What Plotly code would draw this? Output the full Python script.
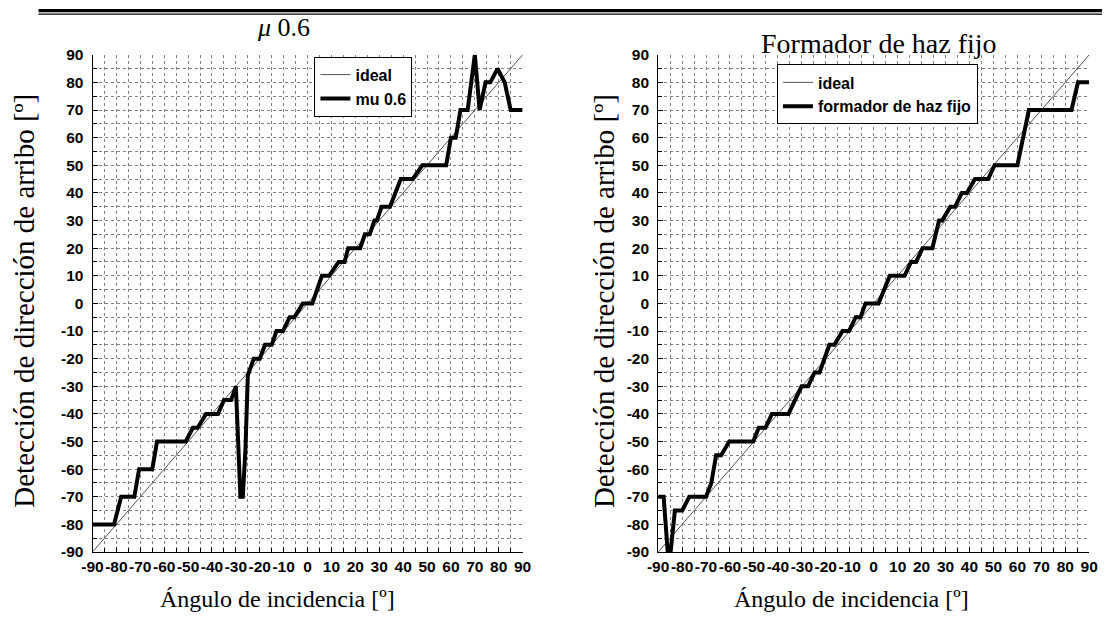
import plotly.graph_objects as go

W, H = 1111, 635

# ---------------- data ----------------
ideal_x = [-90, 90]
ideal_y = [-90, 90]

mu_x = [-90, -81, -78, -72.5, -70.5, -65, -63, -51, -48, -46, -42.5, -37.5, -35, -32, -30,
        -28.8, -28.1, -27.1, -26, -25, -22.5, -20, -17.8, -15, -13, -10.3, -7.5, -5.5, -2,
        2, 6, 9, 13, 15.5, 17, 22, 24, 26, 28, 29, 31, 34.5, 39, 44, 48, 58, 60, 62, 64,
        67, 70, 72, 74.5, 76.5, 79.5, 82.5, 85, 90]
mu_y = [-80, -80, -70, -70, -60, -60, -50, -50, -45, -45, -40, -40, -35, -35, -30,
        -53, -70, -70, -53, -26, -20, -20, -15, -15, -10, -10, -5, -5, 0,
        0, 10, 10, 15, 15, 20, 20, 25, 25, 30, 30, 35, 35, 45, 45, 50, 50, 60, 60, 70,
        70, 90, 70, 80, 80, 85, 80, 70, 70]

fix_x = [-90, -87.7, -86, -84.8, -83, -80, -77, -70, -67.8, -65.8, -63.7, -60.3, -50.3, -48,
         -45.2, -42.5, -35.6, -30.1, -27.4, -24.7, -22.6, -18.5, -16.4, -13, -10.3, -7.5,
         -5.5, -3.4, 2, 6.75, 12.9, 15.6, 17.7, 20.4, 24.5, 27.3, 28.6, 32, 34, 36.8, 38.9,
         42.3, 47.8, 50.5, 60, 64.8, 82.6, 85.3, 90]
fix_y = [-70, -70, -90, -90, -75, -75, -70, -70, -65, -55, -55, -50, -50, -45,
         -45, -40, -40, -30, -30, -25, -25, -15, -15, -10, -10, -5,
         -5, 0, 0, 10, 10, 15, 15, 20, 20, 30, 30, 35, 35, 40, 40,
         45, 45, 50, 50, 70, 70, 80, 80]

tick_vals = list(range(-90, 91, 10))
tick_text = [str(v) for v in tick_vals]

left_title = "<i>μ</i> 0.6"
right_title = "Formador de haz fijo"
x_title = "Ángulo de incidencia [º]"
y_title = "Detección de dirección de arribo [º]"

# ---------------- figure ----------------
def px_x(p):
    return p / W

def px_y(p):
    return 1 - p / H

fig = go.Figure()

fig.add_trace(go.Scatter(x=ideal_x, y=ideal_y, mode="lines", name="ideal",
                         line=dict(color="#555555", width=1), xaxis="x", yaxis="y",
                         legend="legend", legendgroup="a"))
fig.add_trace(go.Scatter(x=mu_x, y=mu_y, mode="lines", name="mu 0.6",
                         line=dict(color="black", width=4), xaxis="x", yaxis="y",
                         legend="legend", legendgroup="b"))
fig.add_trace(go.Scatter(x=ideal_x, y=ideal_y, mode="lines", name="ideal",
                         line=dict(color="#555555", width=1), xaxis="x2", yaxis="y2",
                         legend="legend2", legendgroup="c"))
fig.add_trace(go.Scatter(x=fix_x, y=fix_y, mode="lines", name="formador de haz fijo",
                         line=dict(color="black", width=4), xaxis="x2", yaxis="y2",
                         legend="legend2", legendgroup="d"))

def axis(domain, anchor, is_x):
    d = dict(
        domain=domain, anchor=anchor, range=[-90, 90],
        tickmode="array", tickvals=tick_vals, ticktext=tick_text,
        showgrid=True, gridcolor="#808080", griddash="dot", gridwidth=1,
        showline=True, linecolor="black", linewidth=1,
        ticks="inside", ticklen=5, tickcolor="black",
        zeroline=False,
        tickfont=dict(family="Liberation Sans, Arial, sans-serif", size=15.5,
                      color="black", weight="bold"),
        minor=dict(tickmode="linear", tick0=-85, dtick=10, showgrid=True,
                   gridcolor="#808080", griddash="dot", gridwidth=1,
                   ticks="inside", ticklen=4, tickcolor="black"),
        fixedrange=True,
    )
    if is_x:
        d["ticklabelstandoff"] = 0
        d["tickangle"] = 0
    else:
        d["ticklabelstandoff"] = 5
    return d

xd1 = [px_x(83), px_x(521)]
xd2 = [px_x(659), px_x(1098)]
yd = [px_y(558), px_y(47)]

legend_common = dict(
    bgcolor="white", bordercolor="black", borderwidth=1,
    font=dict(family="Liberation Sans, Arial, sans-serif", size=16, color="black", weight="bold"),
    xanchor="left", yanchor="top", tracegroupgap=5, traceorder="normal",
)

fig.update_layout(
    width=W, height=H,
    margin=dict(l=0, r=0, t=0, b=0),
    paper_bgcolor="white", plot_bgcolor="white",
    xaxis=axis(xd1, "y", True),
    yaxis=axis(yd, "x", False),
    xaxis2=axis(xd2, "y2", True),
    yaxis2=axis(yd, "x2", False),
    legend=dict(x=px_x(309), y=px_y(49), **legend_common),
    legend2=dict(x=px_x(780), y=px_y(57), **legend_common),
    showlegend=True,
)

serif = "Liberation Serif, Times New Roman, serif"
ann = []
ann.append(dict(text=left_title, x=px_x(277), y=px_y(19), xref="paper", yref="paper",
                showarrow=False, xanchor="center", yanchor="middle",
                font=dict(family=serif, size=26, color="black")))
ann.append(dict(text=right_title, x=px_x(884), y=px_y(35), xref="paper", yref="paper",
                showarrow=False, xanchor="center", yanchor="middle",
                font=dict(family=serif, size=28, color="black")))
for cx in (271, 856):
    ann.append(dict(text=x_title, x=px_x(cx), y=px_y(606), xref="paper", yref="paper",
                    showarrow=False, xanchor="center", yanchor="middle",
                    font=dict(family=serif, size=24, color="black")))
for cx in (13, 604):
    ann.append(dict(text=y_title, x=px_x(cx), y=px_y(300), xref="paper", yref="paper",
                    showarrow=False, xanchor="center", yanchor="middle", textangle=-90,
                    font=dict(family=serif, size=29, color="black")))
fig.update_layout(annotations=ann)

# header rule at top of page
fig.add_shape(type="rect", xref="paper", yref="paper",
              x0=px_x(28), x1=1, y0=px_y(3.3), y1=1,
              fillcolor="black", line=dict(width=0))
fig.add_shape(type="line", xref="paper", yref="paper",
              x0=px_x(28), x1=1, y0=px_y(5.3), y1=px_y(5.3),
              line=dict(color="black", width=1.2))

fig.write_html("out.html")
